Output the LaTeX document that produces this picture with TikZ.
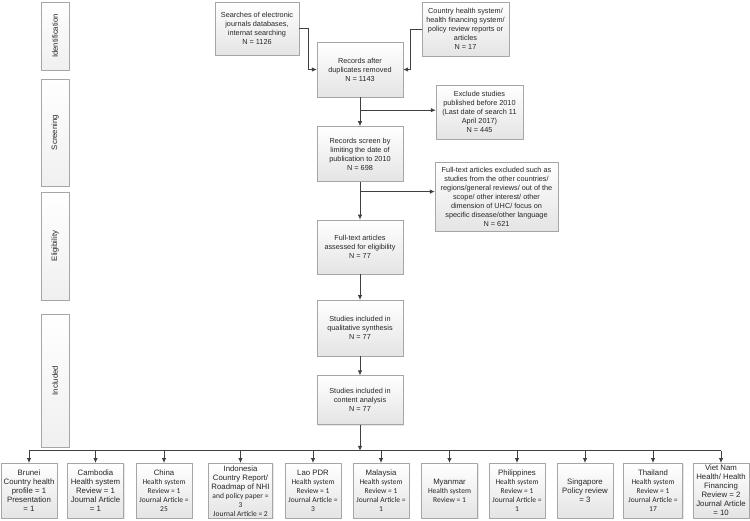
\documentclass[tikz,border=0pt]{standalone}
\usepackage{fontspec}
\setmainfont{Liberation Sans}
\newfontfamily\calfont{Carlito}
\usepackage{xcolor}
\definecolor{boxLine}{HTML}{A6A6A6}
\definecolor{boxLow}{HTML}{E4E4E4}
\definecolor{arrowGray}{HTML}{404040}
\definecolor{textGray}{HTML}{262626}
\usepackage{tikz}
\usetikzlibrary{arrows.meta, positioning, shadows, calc}
\newcommand\cname[1]{{\rmfamily\fontsize{7.8}{9}\selectfont #1}}

\begin{document}
\begin{tikzpicture}[
  x=1pt, y=1pt,
  bx/.style={draw=boxLine, top color=white, bottom color=boxLow, text=textGray, align=center, inner sep=1pt,
    drop shadow={opacity=0.2, shadow xshift=1pt, shadow yshift=-1pt}},
  main/.style={bx, minimum width=86pt, minimum height=55pt, font=\fontsize{7.3}{9}\selectfont},
  side/.style={bx, minimum height=54pt, font=\fontsize{7.3}{9}\selectfont},
  phase/.style={bx, rotate=90, bottom color=white!94!black, minimum height=28pt, font=\fontsize{7.8}{9}\selectfont},
  ctry/.style={bx, anchor=north, minimum width=56pt, minimum height=55pt, font=\fontsize{7.8}{9}\selectfont},
  ctrc/.style={ctry, font=\calfont\fontsize{7.5}{9}\selectfont},
  arr/.style={-{Latex[length=5pt,width=4.5pt]}, draw=arrowGray, line width=0.8pt},
  bus/.style={draw=arrowGray, line width=0.8pt},
  node distance=29pt
]
  \useasboundingbox (0,0) rectangle (750,-520);

  \node[phase, minimum width=68pt] (idph) at (55,-36) {Identification};
  \node[phase, minimum width=107pt] (scph) at (55,-132.5) {Screening};
  \node[phase, minimum width=108pt] (elph) at (55,-246) {Eligibility};
  \node[phase, minimum width=133pt] (inph) at (55,-380.5) {Included};

  \node[side, minimum width=84pt, minimum height=53pt] (search) at (257,-28.5) {Searches of electronic\\journals databases,\\internat searching\\N = 1126};
  \node[side, minimum width=87pt] (country) at (465.5,-29) {Country health system/\\health financing system/\\policy review reports or\\articles\\N = 17};

  \node[main] (dup) at (360,-69.5) {Records after\\duplicates removed\\N = 1143};
  \node[main, below=29pt of dup] (screen) {Records screen by\\limiting the date of\\publication to 2010\\N = 698};
  \node[main, below=38pt of screen, minimum height=54pt] (full) {Full-text articles\\assessed for eligibility\\N = 77};
  \node[main, below=26pt of full, minimum height=56pt] (qual) {Studies included in\\qualitative synthesis\\N = 77};
  \node[main, below=19pt of qual, minimum height=49pt] (content) {Studies included in\\content analysis\\N = 77};

  \node[side, minimum width=87pt] (exclude) at (479.5,-112) {Exclude studies\\published before 2010\\(Last date of search 11\\April 2017)\\N = 445};
  \node[side, minimum width=123pt, minimum height=69pt] (ftex) at (496.5,-196.5) {Full-text articles excluded such as\\studies from the other countries/\\regions/general reviews/ out of the\\scope/ other interest/ other\\dimension of UHC/ focus on\\specific disease/other language\\N = 621};

  \node[ctry] (brunei) at (29,-463) {Brunei\\Country health\\profile = 1\\Presentation\\= 1};
  \node[ctry] (cambodia) at (95.5,-463) {Cambodia\\Health system\\Review = 1\\Journal Article\\= 1};
  \node[ctrc] (china) at (164,-463) {\cname{China}\\Health system\\Review = 1\\Journal Article =\\25};
  \node[ctrc, minimum width=64pt] (indonesia) at (240.5,-463) {\cname{Indonesia}\\\cname{Country Report/}\\\cname{Roadmap of NHI}\\and policy paper =\\3\\Journal Article = 2};
  \node[ctrc] (lao) at (313,-463) {\cname{Lao PDR}\\Health system\\Review = 1\\Journal Article =\\3};
  \node[ctrc] (malaysia) at (381,-463) {\cname{Malaysia}\\Health system\\Review = 1\\Journal Article =\\1};
  \node[ctrc] (myanmar) at (449.5,-463) {\cname{Myanmar}\\Health system\\Review = 1};
  \node[ctrc] (philippines) at (517,-463) {\cname{Philippines}\\Health system\\Review = 1\\Journal Article =\\1};
  \node[ctry] (singapore) at (585,-463) {Singapore\\Policy review\\= 3};
  \node[ctrc, minimum width=59pt] (thailand) at (653,-463) {\cname{Thailand}\\Health system\\Review = 1\\Journal Article =\\17};
  \node[ctry] (vietnam) at (721,-463) {Viet Nam\\Health/ Health\\Financing\\Review = 2\\Journal Article\\= 10};

  \draw[arr] (search.east) -- ++(9,0) |- (dup.west);
  \draw[arr] (country.west) -- ++(-11,0) |- (dup.east);

  \foreach \a/\b in {dup/screen, screen/full, full/qual, qual/content}
    \draw[arr] (\a) -- (\b);

  \coordinate (brA) at ($(dup.south)+(0,-13)$);
  \coordinate (brB) at ($(screen.south)+(0,-10)$);
  \coordinate (bus) at ($(content.south)+(0,-26)$);
  \draw[arr] (brA) -- (brA -| exclude.west);
  \draw[arr] (brB) -- (brB -| ftex.west);
  \draw[arr] (content) -- (bus);

  \draw[bus] (bus -| brunei.north) -- (bus -| vietnam.north);
  \foreach \c in {brunei, cambodia, china, indonesia, lao, malaysia, myanmar, philippines, singapore, thailand, vietnam}
    \draw[arr] (bus -| \c.north) -- (\c.north);
\end{tikzpicture}
\end{document}
